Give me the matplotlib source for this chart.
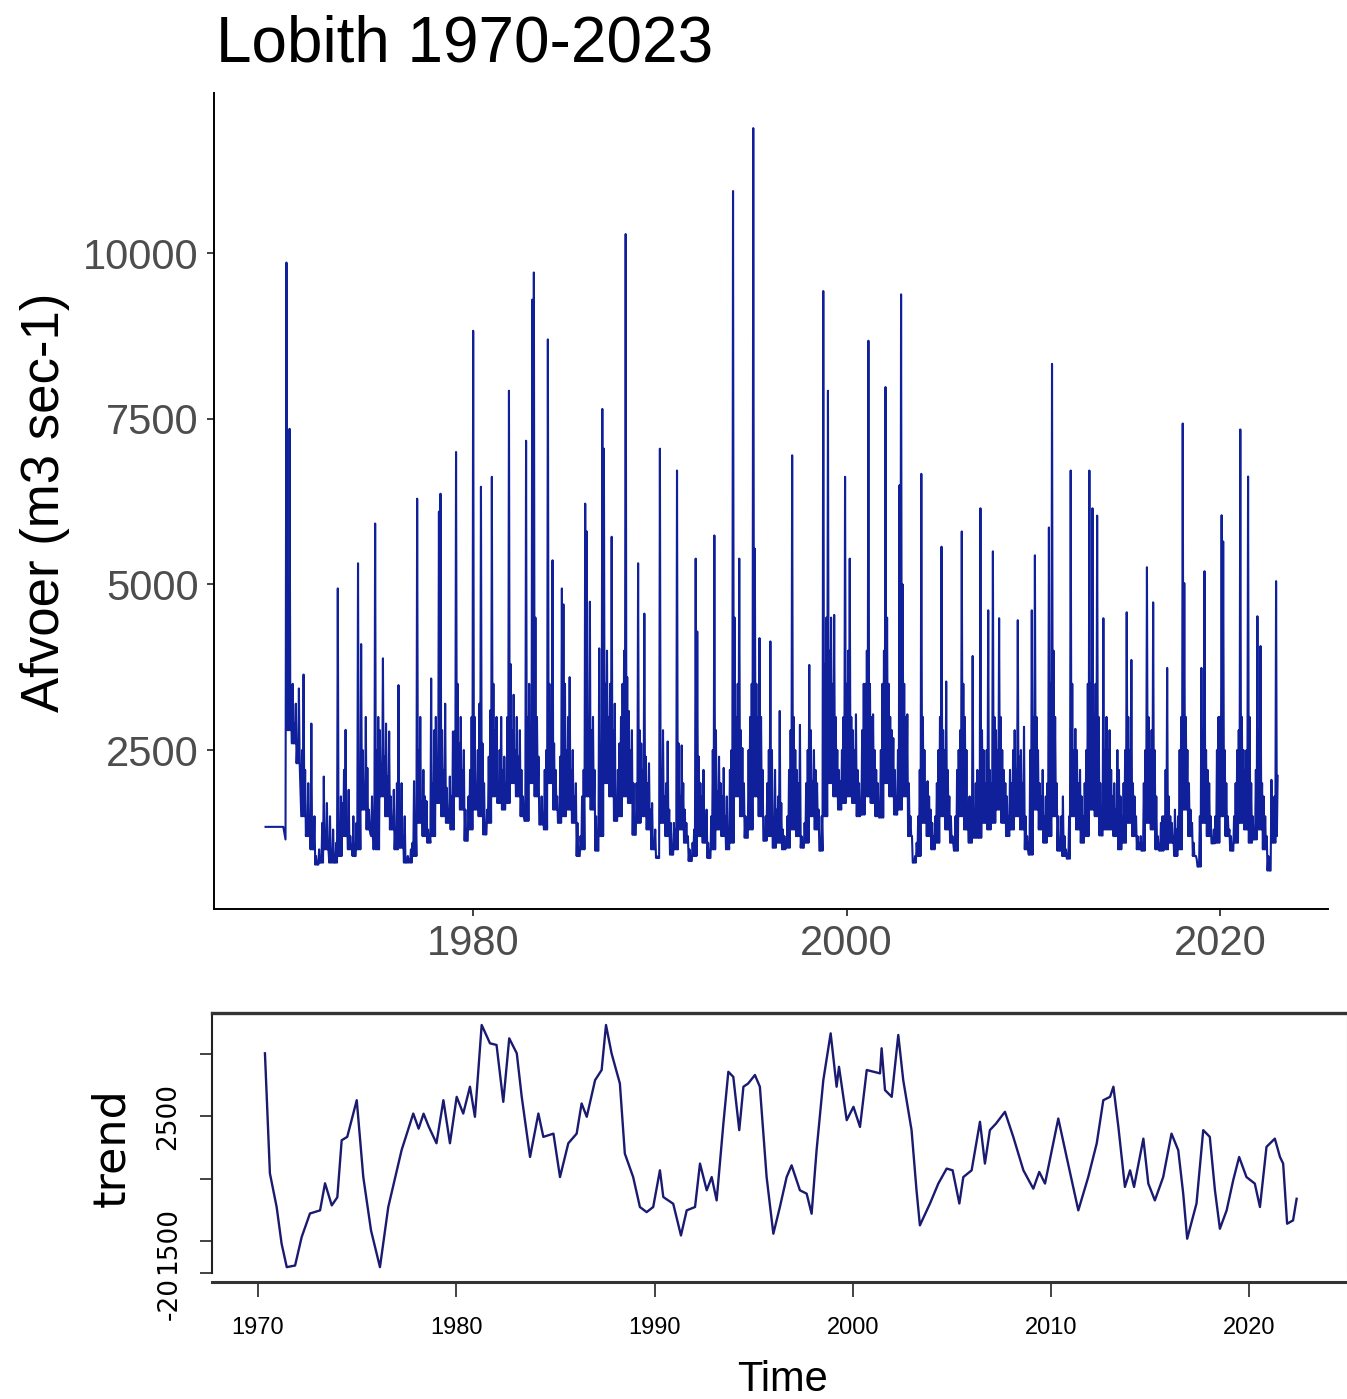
import numpy as np
import matplotlib
matplotlib.use("Agg")
from matplotlib import pyplot as plt

# daily discharge at Lobith, kept here as monthly readings (m3/s), Jan..Dec per row
lead_t = [1968.88, 1969.83, 1969.95]
lead_q = [1340, 1340, 1150]

flows_1970s = [
    9860, 3300, 7350, 3000, 3500, 2900, 3200, 2600, 3430, 1900, 2500, 3640,   # 1970
    2200, 1500, 2000, 1300, 2900, 1100, 1500, 900, 770, 1000, 800, 1400,      # 1971
    2100, 1200, 1700, 1000, 1500, 900, 1300, 800, 1100, 4940, 1300, 1800,     # 1972
    1700, 2200, 2805, 1400, 1900, 1200, 1025, 1500, 900, 1400, 5320, 2100,    # 1973
    4100, 2500, 1800, 3000, 2230, 1600, 1225, 1800, 1000, 5920, 2500, 3000,   # 1974
    2800, 2300, 3885, 2400, 2900, 2100, 2780, 1800, 1400, 1900, 1300, 2000,   # 1975
    3480, 1025, 2000, 1200, 1500, 800, 900, 850, 1000, 1100, 2030, 1500,      # 1976
    6295, 2500, 3000, 1730, 2200, 1800, 1730, 1300, 1200, 3580, 2000, 2800,   # 1977
    3000, 2400, 6100, 6370, 2800, 2200, 3200, 1930, 1500, 2100, 1800, 2780,   # 1978
    2780, 7000, 3500, 2600, 3000, 2200, 2500, 1600, 1130, 1800, 2200, 3000,   # 1979
]
flows_1980s = [
    8830, 3000, 1630, 2500, 3200, 6475, 2600, 2000, 1225, 1600, 2400, 3100,   # 1980
    6625, 3500, 2800, 3000, 1780, 2500, 3000, 2200, 2400, 2000, 3000, 7925,   # 1981
    3800, 2800, 3335, 2500, 3000, 2400, 2800, 2200, 1800, 1430, 7170, 3000,   # 1982
    3500, 2800, 9300, 9710, 4500, 3000, 2400, 1375, 1800, 1500, 2200, 2500,   # 1983
    8700, 3500, 2800, 5365, 2600, 2200, 1800, 1500, 2400, 4940, 4700, 3500,   # 1984
    2500, 3000, 3600, 2200, 2500, 1800, 2000, 1400, 900, 1200, 1800, 2200,    # 1985
    6220, 5800, 2600, 4740, 2800, 3000, 2200, 1500, 980, 4035, 2500, 7650,    # 1986
    7050, 3500, 4000, 3000, 3500, 5720, 2800, 3200, 1430, 2200, 2600, 3000,   # 1987
    3500, 4000, 10290, 3600, 3090, 2500, 2800, 2000, 1220, 2000, 5320, 2800,  # 1988
    2600, 2200, 4560, 2400, 2000, 2300, 1600, 1700, 1100, 1300, 900, 870,     # 1989
]
flows_1990s = [
    7050, 2200, 2800, 1800, 2000, 2630, 1600, 1400, 920, 1400, 1300, 6720,    # 1990
    2600, 1800, 2570, 2000, 1600, 1400, 1200, 1000, 825, 1100, 1300, 5390,    # 1991
    4290, 2400, 2000, 1800, 2200, 1500, 1600, 1100, 870, 1500, 2500, 5740,    # 1992
    2800, 1880, 2400, 2000, 1800, 2230, 1500, 1800, 1200, 2200, 2500, 10940,  # 1993
    4500, 3000, 3500, 5390, 2800, 2530, 2000, 1500, 1175, 2500, 3000, 3500,   # 1994
    11890, 5540, 3500, 3000, 4190, 3000, 2200, 1130, 1500, 2000, 2500, 4140,  # 1995
    2500, 1025, 2200, 1600, 1800, 3090, 1700, 1300, 1200, 1025, 1500, 2200,   # 1996
    2800, 6950, 3000, 2500, 2200, 2000, 2880, 1200, 1025, 1400, 2000, 2500,   # 1997
    3785, 2800, 2030, 2500, 2200, 2000, 1600, 980, 1500, 9430, 3800, 4500,    # 1998
    7925, 4000, 4500, 3500, 4540, 3000, 2500, 2200, 2030, 2500, 3000, 6625,   # 1999
]
flows_2000s = [
    3500, 4000, 5390, 3000, 2800, 2500, 3040, 2200, 2000, 1525, 2800, 3500,   # 2000
    3500, 4000, 8680, 3500, 3000, 3040, 2500, 2200, 2000, 1480, 2500, 3500,   # 2001
    4000, 7980, 4500, 3500, 3000, 2800, 2680, 2200, 1525, 2500, 6500, 9380,   # 2002
    5000, 3500, 3000, 3040, 2000, 1500, 1200, 800, 900, 1100, 1500, 2200,     # 2003
    6670, 3000, 2500, 2000, 2030, 1800, 1600, 1400, 1200, 1500, 2000, 2500,   # 2004
    3000, 5570, 2800, 2500, 3535, 2200, 1800, 1500, 1200, 980, 1500, 2200,    # 2005
    2500, 2800, 5800, 3500, 3000, 2500, 1500, 1800, 1500, 3920, 1600, 2000,   # 2006
    2200, 1175, 6150, 2800, 2500, 2000, 2500, 4610, 2200, 2000, 5500, 3000,   # 2007
    2800, 2500, 4490, 3000, 2500, 2200, 2000, 1800, 1500, 2200, 2000, 2500,   # 2008
    2800, 2200, 4460, 2400, 2500, 2000, 2850, 1500, 1200, 920, 2500, 4610,    # 2009
]
flows_2010s = [
    3000, 5440, 3000, 2500, 2000, 1800, 2200, 1500, 1800, 2000, 5860, 3500,   # 2010
    8330, 4000, 3000, 2000, 1500, 980, 1500, 1800, 1200, 1000, 860, 1500,     # 2011
    6720, 3500, 2500, 2820, 2500, 2000, 2200, 1800, 1500, 2000, 2500, 3500,   # 2012
    6720, 3500, 6150, 3000, 3500, 6040, 3000, 2000, 1210, 4490, 2500, 3000,   # 2013
    2500, 2800, 2200, 1800, 2000, 1600, 2500, 2200, 1800, 1500, 2000, 2500,   # 2014
    4580, 3000, 2500, 3860, 2000, 1800, 1500, 1200, 1100, 1200, 980, 2000,    # 2015
    2500, 5260, 3000, 2500, 2800, 4730, 2500, 1800, 1200, 980, 1400, 1500,    # 2016
    1500, 2200, 3740, 1800, 1500, 1400, 1200, 1600, 1300, 1500, 2500, 3000,   # 2017
    7430, 5020, 3000, 2500, 2000, 1600, 1400, 1100, 900, 850, 740, 1500,      # 2018
    3740, 2800, 5200, 2500, 2200, 2000, 1500, 1090, 1300, 1500, 2500, 3000,   # 2019
]
flows_2020s = [
    3000, 6045, 5650, 2500, 2000, 1500, 1300, 1200, 980, 1500, 2000, 2500,    # 2020
    2800, 7340, 3000, 2500, 2200, 2500, 6630, 3000, 2000, 1500, 1150, 2200,   # 2021
    4520, 2800, 4070, 2000, 1800, 1500, 1200, 900, 680, 2050, 1200, 1800,     # 2022
    5050, 2110,                                                               # 2023
]

# mid-month troughs between readings, one per quarter (Q1..Q4)
troughs = [
    2800, 2600, 2300, 1500,   1200, 1000, 770, 800,    1000, 800, 800, 900,     # 1970-72
    1200, 1000, 900, 1000,    1600, 1300, 1200, 1000,  1800, 1500, 1300, 1000,  # 1973-75
    1025, 800, 800, 900,      1400, 1200, 1100, 1200,  1700, 1500, 1400, 1300,  # 1976-78
    1800, 1600, 1130, 1300,   1600, 1500, 1225, 1400,  1800, 1700, 1600, 1700,  # 1979-81
    2000, 1800, 1500, 1430,   2000, 1800, 1375, 1300,  2000, 1600, 1400, 1500,  # 1982-84
    1600, 1400, 900, 1000,    1800, 1600, 980, 1200,   2000, 1800, 1430, 1500,  # 1985-87
    1800, 1700, 1220, 1400,   1500, 1300, 1000, 870,   1400, 1200, 920, 1000,   # 1988-90
    1300, 1100, 825, 900,     1200, 1100, 870, 1000,   1300, 1200, 1000, 1100,  # 1991-93
    1800, 1500, 1175, 1300,   1800, 1500, 1130, 1200,  1025, 1100, 1000, 1025,  # 1994-96
    1300, 1200, 1025, 1100,   1500, 1300, 980, 1500,   2000, 1800, 1600, 1700,  # 1997-99
    1800, 1700, 1500, 1525,   1800, 1700, 1500, 1480,  2000, 1800, 1525, 1600,  # 2000-02
    1800, 1200, 800, 900,     1400, 1200, 1000, 1100,  1500, 1300, 1100, 980,   # 2003-05
    1500, 1300, 1100, 1175,   1175, 1400, 1300, 1400,  1600, 1400, 1200, 1300,  # 2006-08
    1500, 1300, 1000, 920,    1600, 1300, 1100, 1200,  1500, 980, 900, 860,     # 2009-11
    1500, 1300, 1100, 1200,   1600, 1500, 1210, 1300,  1300, 1200, 1000, 1100,  # 2012-14
    1400, 1200, 1000, 980,    1400, 1300, 1000, 980,   1000, 1100, 900, 1000,   # 2015-17
    1600, 1200, 900, 740,     1400, 1200, 1090, 1100,  1500, 1200, 980, 1100,   # 2018-20
    1400, 1300, 1100, 1150,   1300, 1000, 680, 1100,   1200,                    # 2021-23
]

# trend component (decimal year, m3/s)
trend_t = [1970.35, 1970.6, 1970.94, 1971.19, 1971.45, 1971.87, 1972.2, 1972.62,
           1973.13, 1973.38, 1973.72, 1974.0, 1974.22, 1974.5, 1974.98, 1975.31,
           1975.7, 1976.15, 1976.57, 1977.24, 1977.83, 1978.1, 1978.35, 1978.6,
           1979.0, 1979.35, 1979.68, 1980.02, 1980.35, 1980.69, 1980.94, 1981.28,
           1981.7, 1982.03, 1982.37, 1982.67, 1983.05, 1983.3, 1983.72, 1984.14,
           1984.39, 1984.9, 1985.23, 1985.65, 1986.07, 1986.32, 1986.58, 1987.0,
           1987.33, 1987.55, 1987.83, 1988.25, 1988.5, 1988.92, 1989.26, 1989.6,
           1989.93, 1990.27, 1990.44, 1990.94, 1991.33, 1991.62, 1992.04, 1992.29,
           1992.63, 1992.88, 1993.13, 1993.47, 1993.72, 1993.97, 1994.27, 1994.48,
           1994.72, 1995.06, 1995.31, 1995.65, 1995.99, 1996.32, 1996.66, 1996.91,
           1997.33, 1997.67, 1997.92, 1998.17, 1998.51, 1998.88, 1999.18, 1999.3,
           1999.69, 2000.03, 2000.36, 2000.7, 2001.37, 2001.45, 2001.62, 2001.96,
           2002.29, 2002.54, 2002.96, 2003.21, 2003.38, 2003.89, 2004.31, 2004.73,
           2005.03, 2005.37, 2005.57, 2005.99, 2006.41, 2006.66, 2006.91, 2007.22,
           2007.67, 2008.09, 2008.6, 2009.1, 2009.4, 2009.69, 2010.36, 2010.78,
           2011.37, 2011.87, 2012.3, 2012.63, 2012.97, 2013.14, 2013.39, 2013.72,
           2013.98, 2014.18, 2014.65, 2014.9, 2015.23, 2015.65, 2016.07, 2016.41,
           2016.66, 2016.86, 2017.33, 2017.67, 2018.0, 2018.26, 2018.51, 2018.85,
           2019.18, 2019.48, 2019.85, 2020.27, 2020.53, 2020.86, 2021.28, 2021.54,
           2021.7, 2021.9, 2022.2, 2022.38]
trend_v = [3004, 2042, 1772, 1478, 1290, 1303, 1530, 1720,
           1745, 1962, 1785, 1850, 2307, 2334, 2628, 2012,
           1584, 1290, 1772, 2227, 2521, 2400, 2520, 2420,
           2283, 2628, 2283, 2655, 2521, 2736, 2495, 3231,
           3084, 3071, 2615, 3124, 3004, 2655, 2173, 2521,
           2334, 2360, 2012, 2283, 2360, 2602, 2495, 2789,
           2870, 3231, 3004, 2762, 2200, 2012, 1772, 1731,
           1772, 2066, 1852, 1798, 1544, 1745, 1772, 2120,
           1906, 2012, 1825, 2441, 2856, 2815, 2388, 2736,
           2762, 2830, 2736, 2012, 1558, 1772, 2012, 2106,
           1906, 1879, 1718, 2227, 2789, 3164, 2736, 2896,
           2468, 2575, 2414, 2870, 2843, 3044, 2709, 2655,
           3151, 2789, 2388, 1906, 1625, 1800, 1960, 2080,
           2066, 1800, 2012, 2066, 2455, 2120, 2388, 2441,
           2535, 2334, 2066, 1919, 2053, 1960, 2481, 2173,
           1745, 2012, 2283, 2628, 2655, 2736, 2414, 1933,
           2066, 1933, 2320, 1960, 1825, 2012, 2360, 2227,
           1879, 1518, 1800, 2388, 2334, 1906, 1598, 1745,
           1986, 2173, 2012, 1960, 1772, 2254, 2320, 2173,
           2120, 1638, 1665, 1838]

flows = flows_1970s + flows_1980s + flows_1990s + flows_2000s + flows_2010s + flows_2020s

# monthly readings with the quarter's trough in between
t_list, q_list = list(lead_t), list(lead_q)
for i, q in enumerate(flows):
    t_list.append(1970.0 + i / 12.0)
    q_list.append(q)
    if i < len(flows) - 1:
        t_list.append(1970.0 + (i + 0.5) / 12.0)
        q_list.append(troughs[i // 3])

W, H = 1347, 1399
fig = plt.figure(figsize=(W / 100, H / 100), dpi=100)
fig.patch.set_facecolor("white")

sans = ["Liberation Sans", "DejaVu Sans"]
narrow = ["Liberation Sans Narrow", "Liberation Sans", "DejaVu Sans"]

# --- discharge panel ---
ax1 = fig.add_axes([214 / W, 1 - 909 / H, (1328 - 214) / W, (909 - 93) / H])
ax1.plot(t_list, q_list, color="#10209a", lw=1.5)
ax1.set_xlim(1966.12, 2025.78)
ax1.set_ylim(100, 12420)
ax1.set_xticks([1980, 2000, 2020])
ax1.set_yticks([2500, 5000, 7500, 10000])
for s in ["top", "right"]:
    ax1.spines[s].set_visible(False)
for s in ["left", "bottom"]:
    ax1.spines[s].set_linewidth(1.4)
    ax1.spines[s].set_color("black")
ax1.tick_params(length=5, width=1.3, color="#333333", labelcolor="#4d4d4d",
                labelsize=30, pad=6)
for lab in ax1.get_xticklabels() + ax1.get_yticklabels():
    lab.set_family(sans)

fig.text(216 / W, 1 - 62 / H, "Lobith 1970-2023", fontsize=46, family=sans,
         ha="left", va="baseline")
fig.text(45 / W, 1 - 502 / H, "Afvoer (m3 sec-1)", fontsize=38, family=sans,
         rotation=90, ha="center", va="center")

# --- trend panel ---
ax2 = fig.add_axes([212 / W, 1 - 1273 / H, (1347 - 212) / W, (1273 - 1013) / H])
ax2.plot(trend_t, trend_v, color="#1a1a70", lw=1.7)
ax2.set_xlim(1967.68, 2024.92)
ax2.set_ylim(1243, 3327)
ax2.set_xticks([1970, 1980, 1990, 2000, 2010, 2020])
ax2.set_yticks([1243, 1500, 2000, 2500, 3000])
ax2.set_yticklabels(["", "1500", "", "2500", ""], rotation=90, va="center",
                    family="DejaVu Sans", fontsize=19)
ax2.spines["top"].set_linewidth(2.4)
ax2.spines["top"].set_color("#333333")
ax2.spines["left"].set_linewidth(1.5)
ax2.spines["left"].set_color("#222222")
ax2.spines["right"].set_linewidth(0.8)
ax2.spines["right"].set_color("#bbbbbb")
ax2.spines["bottom"].set_linewidth(2.2)
ax2.spines["bottom"].set_color("#333333")
ax2.spines["bottom"].set_position(("outward", 6.5))
ax2.tick_params(axis="x", length=11, width=1.2, color="#222222", labelsize=17, pad=14)
ax2.tick_params(axis="y", length=8.5, width=1.2, color="#222222", pad=14)
for lab in ax2.get_xticklabels():
    lab.set_family(narrow)

fig.text(170 / W, 1 - 1298 / H, "-20", fontsize=19, family="DejaVu Sans",
         rotation=90, ha="center", va="center")
fig.text(112 / W, 1 - 1148 / H, "trend", fontsize=32, family="DejaVu Sans",
         rotation=90, ha="center", va="center")
fig.text(783 / W, 1 - 1380 / H, "Time", fontsize=30, family=narrow,
         ha="center", va="center")

fig.savefig("out.png", dpi=100, facecolor="white")
